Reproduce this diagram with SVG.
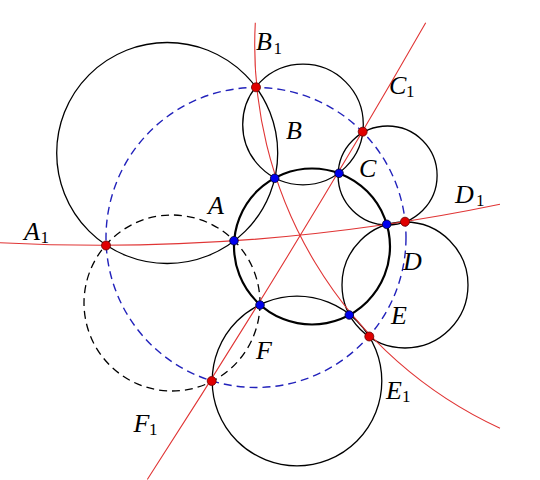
<svg xmlns="http://www.w3.org/2000/svg" width="540" height="480" viewBox="0 0 540 480">
<style>
.c{fill:none;stroke:#000;stroke-width:1.3}
.main{fill:none;stroke:#000;stroke-width:2.2}
.dk{fill:none;stroke:#000;stroke-width:1.3;stroke-dasharray:8 5}
.bl{fill:none;stroke:#2222bb;stroke-width:1.4;stroke-dasharray:8 5}
.r{fill:none;stroke:#e03535;stroke-width:1.1}
.rp{fill:#e00000;stroke:#600;stroke-width:0.8}
.bp{fill:#0000ee;stroke:#002;stroke-width:0.8}
.l{font-family:"Liberation Serif","Times New Roman",serif;font-style:italic;font-size:26px;fill:#000}
.s{font-family:"Liberation Serif","Times New Roman",serif;font-size:17px;fill:#000}
</style>
<g id="circles">
<circle class="c" cx="167.2" cy="153" r="110.5"/>
<circle class="c" cx="303" cy="124.5" r="60.3"/>
<circle class="c" cx="387.6" cy="175.5" r="49.5"/>
<circle class="c" cx="405" cy="285" r="63"/>
<circle class="c" cx="297" cy="381" r="84.8"/>
<circle class="dk" cx="172" cy="303" r="88"/>
<circle class="bl" cx="256" cy="237.5" r="150"/>
<circle class="main" cx="312" cy="246.5" r="78"/>
</g>
<g id="connectors">
<path class="r" d="M0 242.7 A1969 1969 0 0 0 500 204.3"/>
<path class="r" d="M255.3 22.7 A422 422 0 0 0 500 428.3"/>
<path class="r" d="M425.7 22.7 A10000 10000 0 0 1 147.3 479.5"/>
</g>
<g id="points">
<circle class="rp" cx="106" cy="245.5" r="4.5"/>
<circle class="rp" cx="256" cy="87.3" r="4.5"/>
<circle class="rp" cx="362.7" cy="131.7" r="4.5"/>
<circle class="rp" cx="405" cy="221.7" r="4.5"/>
<circle class="rp" cx="369.3" cy="336.5" r="4.5"/>
<circle class="rp" cx="211.7" cy="381" r="4.5"/>
<circle class="bp" cx="234" cy="240.7" r="4.3"/>
<circle class="bp" cx="274.7" cy="178.3" r="4.3"/>
<circle class="bp" cx="339" cy="173.3" r="4.3"/>
<circle class="bp" cx="386.7" cy="224.3" r="4.3"/>
<circle class="bp" cx="349.3" cy="315" r="4.3"/>
<circle class="bp" cx="260" cy="305" r="4.3"/>
</g>
<g id="labels">
<text class="l" x="24" y="239.5">A</text><text class="s" x="40.5" y="243">1</text>
<text class="l" x="208" y="213.5">A</text>
<text class="l" x="256" y="50">B</text><text class="s" x="273.5" y="53.5">1</text>
<text class="l" x="286" y="138.5">B</text>
<text class="l" x="389" y="93.5">C</text><text class="s" x="406" y="96.5">1</text>
<text class="l" x="359" y="176.5">C</text>
<text class="l" x="455" y="203">D</text><text class="s" x="476" y="206">1</text>
<text class="l" x="403" y="270">D</text>
<text class="l" x="391" y="323.5">E</text>
<text class="l" x="386" y="398.5">E</text><text class="s" x="402" y="402">1</text>
<text class="l" x="256" y="358.5">F</text>
<text class="l" x="133.5" y="431.5">F</text><text class="s" x="149" y="435">1</text>
</g>
</svg>
